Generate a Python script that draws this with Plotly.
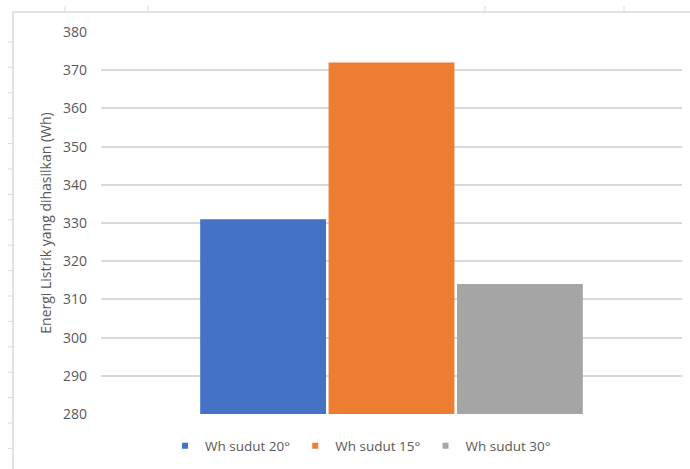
import plotly.graph_objects as go

# ---- data ----
series_names = ["Wh sudut 20°", "Wh sudut 15°", "Wh sudut 30°"]
series_values = [331, 372, 314]
series_colors = ["#4472C4", "#ED7D31", "#A5A5A5"]
category = ["Energi"]
y_title = "Energi Listrik yang dihasilkan (Wh)"
y_ticks = [280, 290, 300, 310, 320, 330, 340, 350, 360, 370, 380]

W, H = 690, 469
L, R, T, B = 101, 8, 32, 55
FONT = "Open Sans"
TXT = "#595959"

fig = go.Figure()
for name, val, col in zip(series_names, series_values, series_colors):
    fig.add_trace(go.Bar(
        x=category, y=[val], name=name, marker=dict(color=col, line=dict(width=0)),
        showlegend=False, hoverinfo="skip"))
# legend entries with small square markers
for name, col in zip(series_names, series_colors):
    fig.add_trace(go.Scatter(
        x=[None], y=[None], mode="markers", name=name,
        marker=dict(symbol="square", size=6, color=col), showlegend=True))

# spreadsheet frame decoration (pixel -> paper conversion)
pw, ph = W - L - R, H - T - B
def px(x):
    return (x - L) / pw
def py(y):
    return (H - B - y) / ph

shapes = []
frame_col = "#DADADA"
shapes.append(dict(type="line", xref="paper", yref="paper", x0=px(13), x1=px(W), y0=py(12), y1=py(12),
                   line=dict(color=frame_col, width=1.5)))
shapes.append(dict(type="line", xref="paper", yref="paper", x0=px(13), x1=px(13), y0=py(12), y1=py(H),
                   line=dict(color=frame_col, width=1.5)))
for tx in [65, 148, 485, 624]:
    shapes.append(dict(type="line", xref="paper", yref="paper", x0=px(tx), x1=px(tx), y0=py(6), y1=py(12),
                       line=dict(color=frame_col, width=1)))
for i in range(17):
    ty = 42 + i * 25.4
    shapes.append(dict(type="line", xref="paper", yref="paper", x0=px(8), x1=px(13), y0=py(ty), y1=py(ty),
                       line=dict(color=frame_col, width=1)))

fig.update_layout(
    width=W, height=H,
    margin=dict(l=L, r=R, t=T, b=B, autoexpand=False),
    paper_bgcolor="white", plot_bgcolor="white",
    barmode="group", bargap=0.337, bargroupgap=0.02,
    font=dict(family=FONT, size=14, color=TXT),
    showlegend=True,
    legend=dict(orientation="h", xref="container", yref="container",
                x=165 / W, xanchor="left", y=(H - 446) / H, yanchor="middle",
                font=dict(family=FONT, size=13.5, color=TXT), itemwidth=30, tracegroupgap=0),
    shapes=shapes,
    xaxis=dict(showticklabels=False, showgrid=False, zeroline=False, showline=False, ticks=""),
    yaxis=dict(range=[280, 380], tickvals=y_ticks, showgrid=True, gridcolor="#D9D9D9", gridwidth=1.5,
               zeroline=False, showline=False, ticks="", ticklabelstandoff=13,
               tickfont=dict(family=FONT, size=14, color=TXT),
               title=dict(text=y_title, font=dict(family=FONT, size=14, color=TXT), standoff=8)),
)

fig.write_html("out.html")
